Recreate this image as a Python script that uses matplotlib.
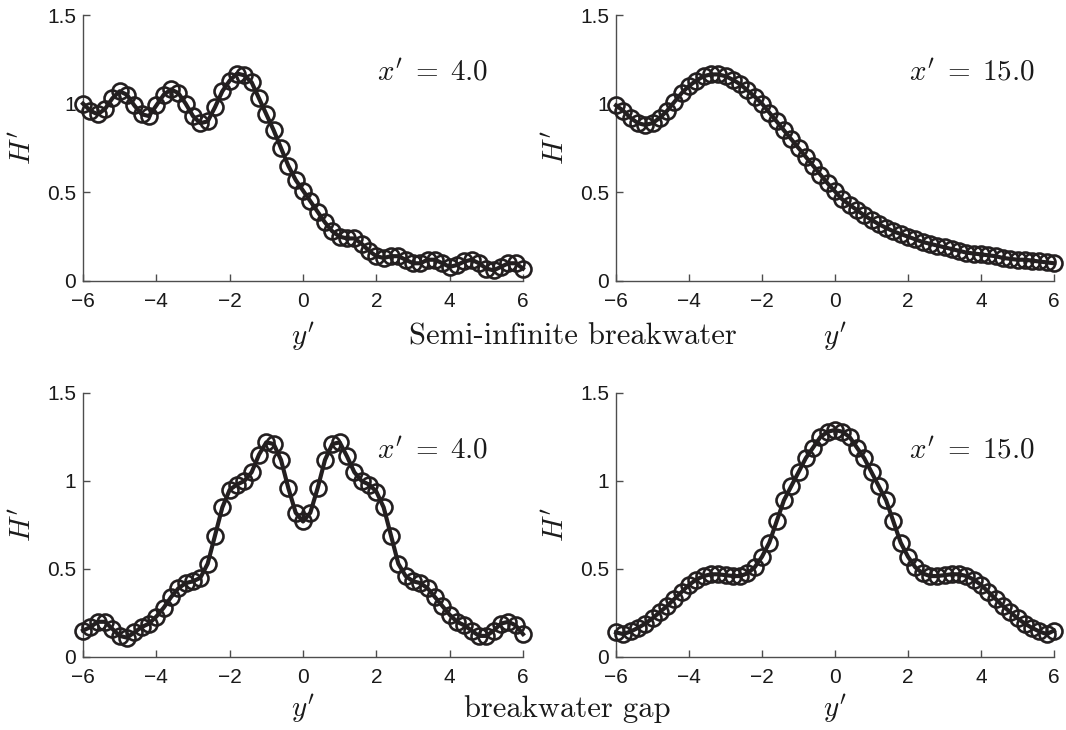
import numpy as np
import matplotlib
matplotlib.use("Agg")
import matplotlib.pyplot as plt

plt.rcParams['mathtext.fontset'] = 'cm'
plt.rcParams['font.family'] = ['Liberation Sans', 'DejaVu Sans']

ink = '#231f20'
axis_grey = '#4d4d4d'

y_pos = np.round(np.linspace(-6, 6, 61), 2)

# semi-infinite breakwater, x' = 4.0
semi_x4 = [1.00, 0.96, 0.94, 0.97, 1.03, 1.07, 1.05, 0.99, 0.94, 0.93,
           0.99, 1.05, 1.08, 1.06, 1.00, 0.93, 0.89, 0.90, 0.98, 1.07,
           1.13, 1.17, 1.16, 1.12, 1.03, 0.94, 0.85, 0.75, 0.65, 0.57,
           0.51, 0.45, 0.39, 0.33, 0.28, 0.25, 0.24, 0.24, 0.21, 0.17,
           0.14, 0.13, 0.14, 0.14, 0.12, 0.10, 0.10, 0.12, 0.12, 0.10,
           0.08, 0.09, 0.11, 0.12, 0.10, 0.07, 0.06, 0.08, 0.10, 0.10,
           0.07]

# semi-infinite breakwater, x' = 15.0
semi_x15 = [0.99, 0.96, 0.92, 0.89, 0.88, 0.89, 0.92, 0.96, 1.01, 1.06,
            1.10, 1.13, 1.155, 1.165, 1.165, 1.155, 1.135, 1.11, 1.075, 1.04,
            1.00, 0.95, 0.90, 0.85, 0.80, 0.75, 0.70, 0.65, 0.60, 0.55,
            0.505, 0.46, 0.43, 0.40, 0.37, 0.345, 0.32, 0.30, 0.28, 0.265,
            0.25, 0.235, 0.22, 0.21, 0.20, 0.19, 0.18, 0.17, 0.16, 0.155,
            0.15, 0.145, 0.14, 0.13, 0.125, 0.12, 0.12, 0.115, 0.11, 0.105,
            0.10]

# breakwater gap, x' = 4.0
gap_x4 = [0.15, 0.17, 0.20, 0.20, 0.16, 0.12, 0.11, 0.14, 0.17, 0.19,
          0.23, 0.28, 0.34, 0.39, 0.42, 0.43, 0.45, 0.53, 0.69, 0.85,
          0.95, 0.98, 1.00, 1.05, 1.15, 1.22, 1.21, 1.12, 0.96, 0.82,
          0.77, 0.82, 0.96, 1.12, 1.21, 1.22, 1.14, 1.05, 1.00, 0.98,
          0.94, 0.85, 0.69, 0.53, 0.46, 0.43, 0.42, 0.39, 0.34, 0.29,
          0.24, 0.20, 0.18, 0.15, 0.12, 0.12, 0.15, 0.19, 0.20, 0.18,
          0.13]

# breakwater gap, x' = 15.0
gap_x15 = [0.14, 0.13, 0.145, 0.165, 0.19, 0.22, 0.255, 0.29, 0.33, 0.37,
           0.41, 0.44, 0.46, 0.47, 0.47, 0.465, 0.46, 0.46, 0.475, 0.51,
           0.57, 0.65, 0.77, 0.89, 0.97, 1.05, 1.13, 1.19, 1.25, 1.28,
           1.29, 1.28, 1.25, 1.19, 1.13, 1.05, 0.97, 0.89, 0.77, 0.65,
           0.57, 0.51, 0.475, 0.46, 0.46, 0.465, 0.47, 0.47, 0.46, 0.44,
           0.41, 0.37, 0.33, 0.29, 0.255, 0.22, 0.19, 0.165, 0.145, 0.13,
           0.15]

# (values, annotation, pixel box left, bottom, right, top, y' label offset)
panels = [
    (semi_x4, r"$x'\;=\;4.0$", [83, 281, 523, 15], -0.21),
    (semi_x15, r"$x'\;=\;15.0$", [616, 281, 1054, 15], -0.21),
    (gap_x4, r"$x'\;=\;4.0$", [83, 657, 523, 393], -0.195),
    (gap_x15, r"$x'\;=\;15.0$", [616, 657, 1054, 393], -0.195),
]

W, H = 1066, 730
fig = plt.figure(figsize=(W / 100, H / 100), dpi=100)

for values, label, (x0, ybot, x1, ytop), ylab in panels:
    ax = fig.add_axes([x0 / W, 1 - ybot / H, (x1 - x0) / W, (ybot - ytop) / H])
    ax.plot(y_pos, values, color=ink, lw=3.0, marker='o', ms=11.5,
            mfc='none', mec=ink, mew=1.9, clip_on=False, zorder=3)
    ax.set_xlim(-6, 6)
    ax.set_ylim(0, 1.5)
    ax.set_xticks([-6, -4, -2, 0, 2, 4, 6])
    ax.set_yticks([0, 0.5, 1, 1.5])
    ax.set_yticklabels(['0', '0.5', '1', '1.5'])
    for s in ['top', 'right']:
        ax.spines[s].set_visible(False)
    for s in ['left', 'bottom']:
        ax.spines[s].set_color(axis_grey)
        ax.spines[s].set_linewidth(1.0)
    ax.tick_params(direction='in', length=5, width=1.0, color=axis_grey,
                   labelsize=15, labelcolor='#1a1a1a')
    ax.tick_params(axis='x', pad=8)
    ax.tick_params(axis='y', pad=5)
    ax.text(0.668, 0.785, label, transform=ax.transAxes, fontsize=21,
            ha='left', va='center', color='#1a1a1a')
    ax.text(0.5, ylab, r"$y'$", transform=ax.transAxes, fontsize=21,
            ha='center', va='center', color='#1a1a1a')
    ax.text(-0.138, 0.5, r"$H'$", transform=ax.transAxes, fontsize=21,
            ha='center', va='center', rotation=90, color='#1a1a1a')

fig.text(573 / W, 1 - 337 / H, 'Semi-infinite breakwater', family='cmr10',
         fontsize=22, ha='center', va='center', color='#1a1a1a')
fig.text(567 / W, 1 - 709 / H, 'breakwater gap', family='cmr10',
         fontsize=22, ha='center', va='center', color='#1a1a1a')

fig.savefig('out.png', dpi=100)
